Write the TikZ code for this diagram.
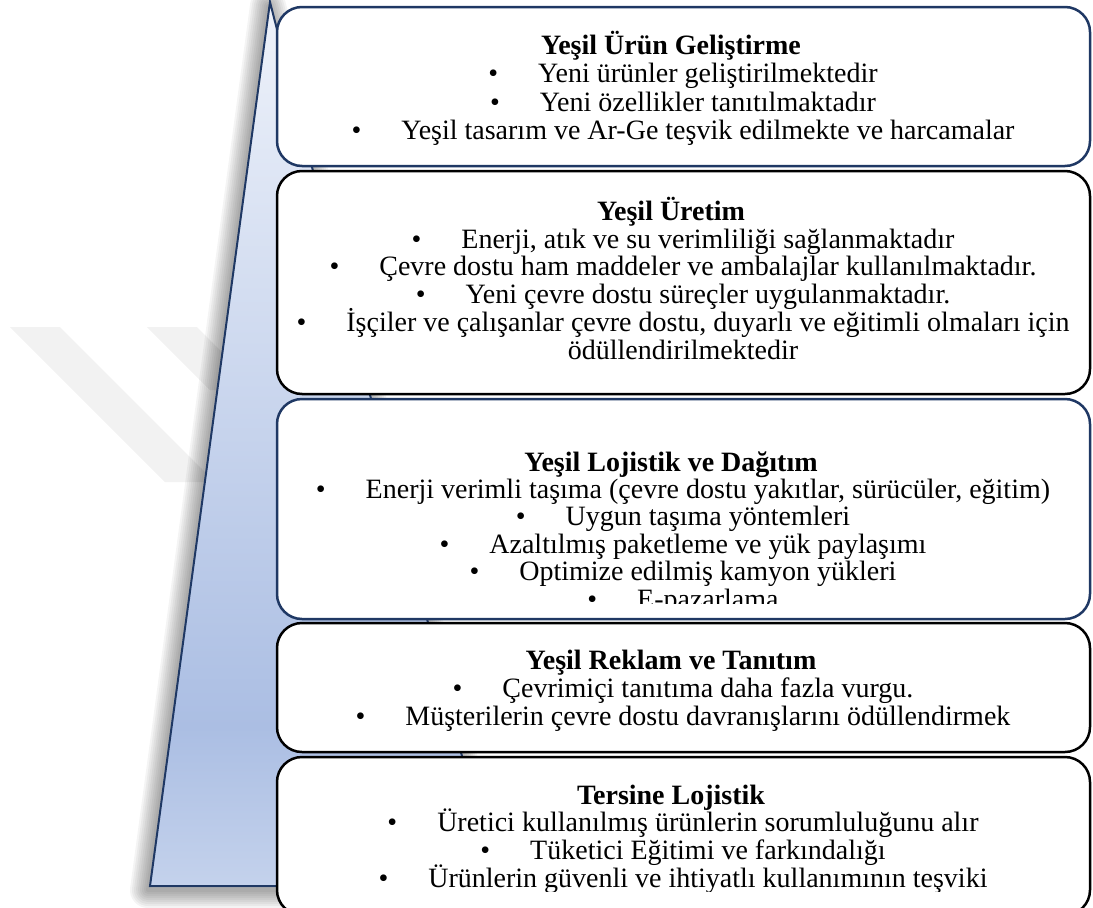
\documentclass[tikz,border=0pt]{standalone}
\usepackage{fontspec}
\setmainfont{Liberation Serif}
\usetikzlibrary{calc}
\definecolor{navy}{HTML}{1F3864}
\definecolor{ctop}{HTML}{EEF2FA}
\definecolor{cmid}{HTML}{ABBEE3}
\definecolor{cbot}{HTML}{C4D2EC}
\definecolor{wmark}{HTML}{F2F2F2}
\pgfdeclareverticalshading{trishade}{100bp}{color(0bp)=(cbot); color(25bp)=(cbot); color(34bp)=(cmid); color(75bp)=(ctop); color(100bp)=(ctop)}
\newcommand\bul{\textbullet\hspace{40pt}}
\newcommand\boxlines[4]{%
  \foreach [count=\i] \t in {#4} {
    \node[txt] (#1-\i) at (683, {#2+(\i-1)*#3}) {\t};
  }}
\begin{document}
\begin{tikzpicture}[x=1pt,y=-1pt,
  boxnavy/.style={draw=navy, line width=2.5pt, fill=white, rounded corners=25pt},
  boxblack/.style={draw=black, line width=2.5pt, fill=white, rounded corners=25pt},
  txt/.style={font=\fontsize{28}{28}\selectfont, inner sep=0pt, anchor=base},
  ttl/.style={txt, font=\fontsize{28}{28}\selectfont\bfseries},
]
\useasboundingbox (0,0) rectangle (1093,908);
\clip (0,0) rectangle (1093,908);
% watermark
\fill[wmark] (10,327) -- (60,327) -- (215,482) -- (165,482) -- cycle;
\fill[wmark] (147,327) -- (197,327) -- (260,390) -- (210,390) -- cycle;
% triangle
\coordinate (apex) at (270,2);
\coordinate (tl) at (150,886);
\coordinate (tr) at (495,886);
\foreach \w in {36,32,...,4}
  \draw[black, opacity=0.045, line width=\w pt, line join=round]
    ([shift={(-2,4)}]apex) -- ([shift={(-2,4)}]tl) -- ([shift={(-2,4)}]tr) -- cycle;
\shadedraw[shading=trishade, draw=navy, line width=2pt, line join=miter] (apex) -- (tl) -- (tr) -- cycle;
% boxes
\draw[boxnavy]  (277,7)   rectangle (1090,166);
\draw[boxblack] (277,171) rectangle (1090,394);
\draw[boxnavy]  (277,399) rectangle (1090,619);
\draw[boxblack] (277,623) rectangle (1090,752);
\draw[boxblack] (277,757) rectangle (1090,915);
% titles
\node[ttl] (t1) at (671,54)  {Yeşil Ürün Geliştirme};
\node[ttl] (t2) at (671,220) {Yeşil Üretim};
\node[ttl] (t3) at (671,471) {Yeşil Lojistik ve Dağıtım};
\node[ttl] (t4) at (671,669) {Yeşil Reklam ve Tanıtım};
\node[ttl] (t5) at (671,804) {Tersine Lojistik};
% bullet lines
\boxlines{b1}{82.5}{28.5}{{\bul Yeni ürünler geliştirilmektedir},{\bul Yeni özellikler tanıtılmaktadır},{\bul Yeşil tasarım ve Ar-Ge teşvik edilmekte ve harcamalar}}
\boxlines{b2}{248}{27.8}{{\bul Enerji, atık ve su verimliliği sağlanmaktadır},{\bul Çevre dostu ham maddeler ve ambalajlar kullanılmaktadır.},{\bul Yeni çevre dostu süreçler uygulanmaktadır.},{\bul İşçiler ve çalışanlar çevre dostu, duyarlı ve eğitimli olmaları için},{ödüllendirilmektedir}}
\begin{scope}
\clip (277,399) rectangle (1090,603);
\boxlines{b3}{498.4}{27.4}{{\bul Enerji verimli taşıma (çevre dostu yakıtlar, sürücüler, eğitim)},{\bul Uygun taşıma yöntemleri},{\bul Azaltılmış paketleme ve yük paylaşımı},{\bul Optimize edilmiş kamyon yükleri},{\bul E-pazarlama}}
\end{scope}
\boxlines{b4}{697}{28}{{\bul Çevrimiçi tanıtıma daha fazla vurgu.},{\bul Müşterilerin çevre dostu davranışlarını ödüllendirmek}}
\begin{scope}
\clip (277,757) rectangle (1090,891);
\boxlines{b5}{831.7}{27.7}{{\bul Üretici kullanılmış ürünlerin sorumluluğunu alır},{\bul Tüketici Eğitimi ve farkındalığı},{\bul Ürünlerin güvenli ve ihtiyatlı kullanımının teşviki}}
\end{scope}
\end{tikzpicture}
\end{document}
